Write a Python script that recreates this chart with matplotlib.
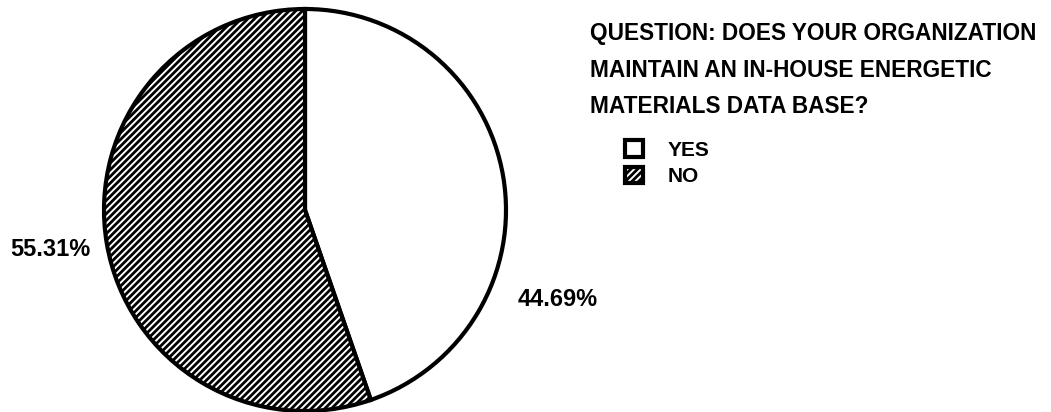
import matplotlib
matplotlib.use("Agg")
import matplotlib.pyplot as plt

# Data
categories = ["YES", "NO"]
values = [44.69, 55.31]
title_lines = ["QUESTION: DOES YOUR ORGANIZATION",
               "MAINTAIN AN IN-HOUSE ENERGETIC",
               "MATERIALS DATA BASE?"]

W, H = 1051, 412
plt.rcParams['font.family'] = ['Liberation Sans', 'DejaVu Sans']
plt.rcParams['hatch.linewidth'] = 2.0

fig = plt.figure(figsize=(W / 100, H / 100), dpi=100)
fig.patch.set_facecolor('white')

cx, cy, r = 305, 210, 201
ax = fig.add_axes([(cx - r) / W, (H - cy - r) / H, 2 * r / W, 2 * r / H])
wedges, _ = ax.pie(values, startangle=90, counterclock=False, radius=1,
                   colors=['white', 'white'],
                   wedgeprops=dict(edgecolor='black', linewidth=3.0),
                   frame=False)
wedges[1].set_hatch('/////')
ax.set_xlim(-1, 1)
ax.set_ylim(-1, 1)
ax.set_aspect('equal')
ax.axis('off')

# Percentage labels
fig.text(10 / W, 1 - 250 / H, f"{values[1]:.2f}%", fontsize=17, fontweight='bold',
         ha='left', va='center')
fig.text(518 / W, 1 - 299 / H, f"{values[0]:.2f}%", fontsize=17, fontweight='bold',
         ha='left', va='center')

# Title lines
baselines = [40, 77, 113]
for line, b in zip(title_lines, baselines):
    fig.text(590 / W, 1 - b / H, line, fontsize=16.3, fontweight='bold',
             ha='left', va='baseline')

leg = fig.legend(wedges, categories, loc='upper left',
                 bbox_to_anchor=(625 / W, 1 - 140 / H),
                 frameon=False, borderpad=0, borderaxespad=0,
                 handlelength=0.85, handleheight=0.85, handletextpad=1.2,
                 labelspacing=0.35,
                 prop=dict(size=15, weight='bold'))
for h in leg.legend_handles:
    h.set_linewidth(3.0)

fig.savefig("out.png", dpi=100, facecolor='white')
